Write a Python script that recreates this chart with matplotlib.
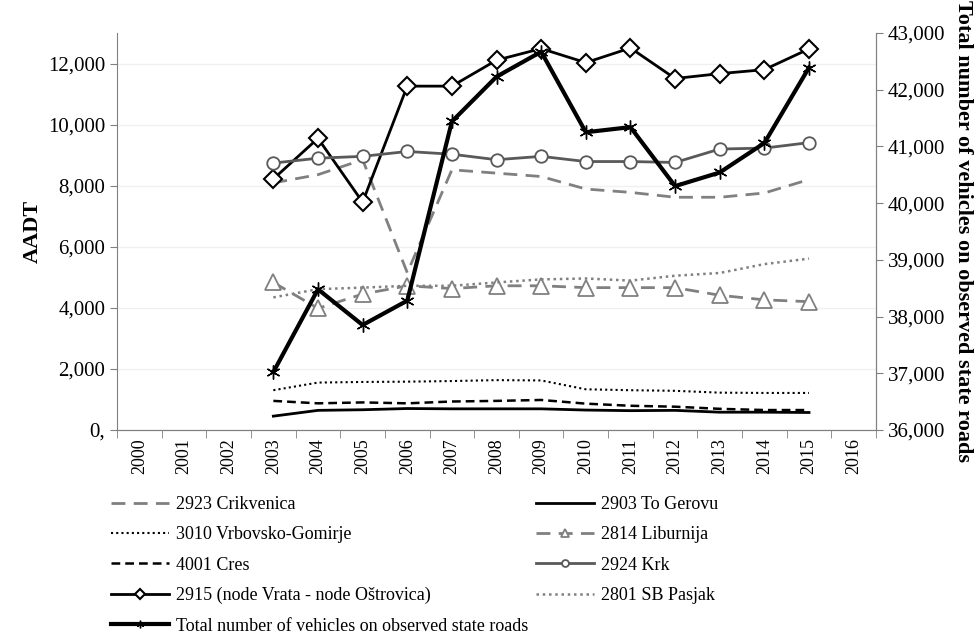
import numpy as np
import matplotlib
matplotlib.use("Agg")
import matplotlib.pyplot as plt

plt.rcParams['font.family'] = ['Liberation Serif', 'DejaVu Serif']

years = list(range(2000, 2017))
data_years = list(range(2003, 2016))

crikvenica = [8090, 8360, 8850, 5150, 8520, 8410, 8300, 7890, 7780, 7620, 7620, 7760, 8200]
gerovu = [450, 640, 660, 700, 690, 690, 690, 650, 630, 640, 580, 580, 570]
vrbovsko = [1300, 1550, 1570, 1580, 1600, 1630, 1620, 1330, 1300, 1280, 1220, 1210, 1210]
liburnija = [4830, 3980, 4450, 4720, 4630, 4720, 4720, 4660, 4660, 4660, 4410, 4260, 4200]
cres = [950, 870, 900, 870, 930, 950, 980, 860, 790, 760, 690, 650, 650]
krk = [8740, 8900, 8960, 9120, 9030, 8850, 8960, 8790, 8790, 8760, 9200, 9230, 9410]
vrata = [8220, 9550, 7460, 11260, 11260, 12110, 12490, 12030, 12510, 11510, 11670, 11800, 12480]
pasjak = [4340, 4610, 4660, 4720, 4720, 4830, 4930, 4960, 4890, 5050, 5140, 5430, 5610]
total = [37020, 38480, 37850, 38280, 41440, 42230, 42670, 41250, 41340, 40300, 40540, 41060, 42390]

fig = plt.figure(figsize=(9.76, 6.35), dpi=100)
ax = fig.add_axes([0.12, 0.323, 0.7775, 0.625])
ax2 = ax.twinx()

x = [years.index(y) for y in data_years]
gray = '#808080'
h = {}
h['cr'], = ax.plot(x, crikvenica, color=gray, lw=2, ls=(0, (5, 3)), label='2923 Crikvenica')
h['vr'], = ax.plot(x, vrbovsko, color='black', lw=1.5, ls=(0, (1, 1.5)), label='3010 Vrbovsko-Gomirje')
h['cs'], = ax.plot(x, cres, color='black', lw=1.8, ls=(0, (3.5, 2)), label='4001 Cres')
h['vt'], = ax.plot(x, vrata, color='black', lw=2, marker='D', ms=9, mfc='white', mec='black', mew=1.5,
                   label='2915 (node Vrata - node Oštrovica)')
h['ge'], = ax.plot(x, gerovu, color='black', lw=2, label='2903 To Gerovu')
h['li'], = ax.plot(x, liburnija, color=gray, lw=2, ls=(0, (5, 3)), marker='^', ms=11, mfc='white',
                   mec=gray, mew=1.3, label='2814 Liburnija')
h['kr'], = ax.plot(x, krk, color='#595959', lw=2, marker='o', ms=9, mfc='white', mec='#595959', mew=1.3,
                   label='2924 Krk')
h['pa'], = ax.plot(x, pasjak, color=gray, lw=1.8, ls=(0, (1, 1.5)), label='2801 SB Pasjak')
h['to'], = ax2.plot(x, total, color='black', lw=3, marker=(6, 2, 0), ms=10, mew=1,
                    label='Total number of vehicles on observed state roads')

ax.set_xlim(-0.5, len(years) - 0.5)
ax.set_ylim(0, 13000)
ax2.set_ylim(36000, 43000)
ax.set_yticks(np.arange(0, 13000, 2000))
ax.set_yticklabels(['0,'] + [f'{v:,}' for v in range(2000, 13000, 2000)], fontsize=15)
ax2.set_yticks(np.arange(36000, 43001, 1000))
ax2.set_yticklabels([f'{v:,}' for v in range(36000, 43001, 1000)], fontsize=15)
ax.set_xticks(range(len(years)))
ax.set_xticklabels([str(y) for y in years], rotation=90, fontsize=13)
ax.set_xticks(np.arange(-0.5, len(years)), minor=True)
ax.tick_params(axis='x', which='major', length=0, pad=6)
ax.tick_params(axis='x', which='minor', length=6, color=gray)
ax.tick_params(axis='y', length=5, color=gray)
ax2.tick_params(axis='y', length=5, color=gray)
ax.grid(axis='y', color='#f0f0f0', lw=1)
for a in (ax, ax2):
    a.spines['top'].set_visible(False)
    for s in ('left', 'right', 'bottom'):
        a.spines[s].set_color(gray)
ax2.spines['left'].set_visible(False)

ax.set_ylabel('AADT', fontsize=16, fontweight='bold')
ax2.set_ylabel('Total number of vehicles on observed state roads', fontsize=16, fontweight='bold',
               rotation=-90, labelpad=20)

leg_kw = dict(frameon=False, loc='upper left', fontsize=13, handlelength=3.2, handletextpad=0.4,
              labelspacing=0.74, borderpad=0, borderaxespad=0, markerscale=0.55)
left = ['cr', 'vr', 'cs', 'vt', 'to']
right = ['ge', 'li', 'kr', 'pa']
fig.legend([h[k] for k in left], [h[k].get_label() for k in left],
           bbox_to_anchor=(0.114, 0.219), **leg_kw)
fig.legend([h[k] for k in right], [h[k].get_label() for k in right],
           bbox_to_anchor=(0.549, 0.219), **leg_kw)

fig.savefig('out.png', dpi=100)
